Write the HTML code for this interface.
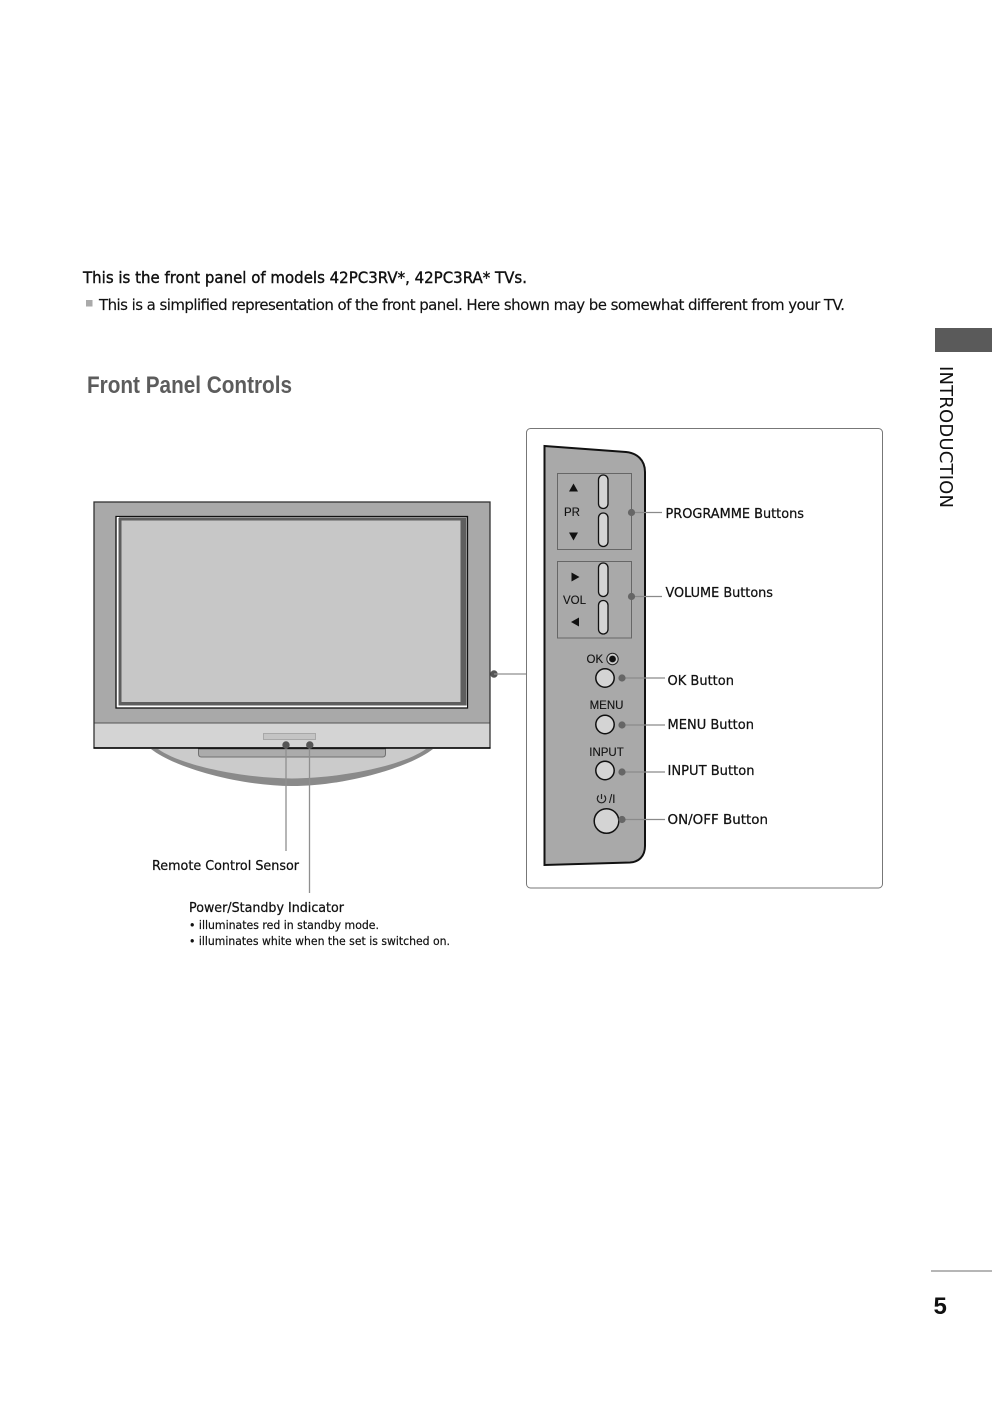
<!DOCTYPE html>
<html>
<head>
<meta charset="utf-8">
<style>
html,body{margin:0;padding:0;background:#fff;}
svg{display:block;}
text{font-family:"DejaVu Sans","Liberation Sans",sans-serif;fill:#111;}
.a{font-family:"Liberation Sans",sans-serif;font-size:11.5px;fill:#111;stroke:#111;stroke-width:.12px;}
.l{font-size:13.5px;stroke:#111;stroke-width:.25px;}
.s{font-size:11.5px;stroke:#111;stroke-width:.2px;}
</style>
</head>
<body>
<svg width="992" height="1404" viewBox="0 0 992 1404" xmlns="http://www.w3.org/2000/svg">
<rect width="992" height="1404" fill="#fff"/>

<text x="83" y="283" font-size="16" stroke="#111" stroke-width=".4" textLength="444" lengthAdjust="spacingAndGlyphs">This is the front panel of models 42PC3RV*, 42PC3RA* TVs.</text>
<rect x="86" y="300" width="6.500" height="6.500" fill="#aaa"/>
<text x="99" y="310" font-size="15" stroke="#111" stroke-width=".15" textLength="746" lengthAdjust="spacing">This is a simplified representation of the front panel. Here shown may be somewhat different from your TV.</text>
<text x="87" y="393" style="font-family:'Liberation Sans',sans-serif;fill:#5c5c5c" font-size="24" font-weight="bold" textLength="205" lengthAdjust="spacingAndGlyphs">Front Panel Controls</text>

<rect x="935" y="328" width="57" height="24" fill="#5a5a5a"/>
<text transform="translate(940,366) rotate(90)" font-size="18" textLength="142" lengthAdjust="spacing">INTRODUCTION</text>

<line x1="931" y1="1271" x2="992" y2="1271" stroke="#8a8a8a" stroke-width="1.200"/>
<text x="933.500" y="1314" style="font-family:'Liberation Sans',sans-serif" font-size="24" font-weight="bold">5</text>

<!-- stand -->
<path d="M151 749 C175 768 240 786 292 786 C344 786 409 768 433 749 Z" fill="#8a8a8a"/>
<path d="M158 749 C180 765 240 778 292 778.500 C344 778 404 765 426 749 Z" fill="#cbcbcb"/>
<path d="M198.500 749 V754 Q198.500 757 201.500 757 H382.500 Q385.500 757 385.500 754 V749 Z" fill="#ababab" stroke="#707070" stroke-width="1"/>

<!-- tv -->
<rect x="94" y="502" width="396" height="246" fill="#a9a9a9"/>
<rect x="94.500" y="723" width="395" height="25" fill="#d4d4d4"/>
<line x1="94" y1="723" x2="490" y2="723" stroke="#555" stroke-width="1"/>
<rect x="94" y="502" width="396" height="246" fill="none" stroke="#333" stroke-width="1.300"/>
<line x1="93.500" y1="748" x2="490.500" y2="748" stroke="#000" stroke-width="1.500"/>
<rect x="116" y="516.500" width="351.500" height="191.500" fill="#a9a9a9" stroke="#111" stroke-width="1.300"/>
<path d="M116.800 517 H119 V705.500 H467 V707.300 H116.800 Z" fill="#fff"/>
<rect x="118.500" y="518" width="347.500" height="187.500" fill="#5e5e5e"/>
<rect x="121.500" y="520.500" width="339" height="181.500" fill="#c7c7c7"/>
<rect x="263.500" y="733.500" width="52" height="6" fill="#c4c4c4" stroke="#a8a8a8" stroke-width="1"/>

<line x1="286" y1="745" x2="286" y2="851" stroke="#8f8f8f" stroke-width="1.300"/>
<line x1="309.500" y1="745" x2="309.500" y2="893" stroke="#8f8f8f" stroke-width="1.300"/>
<circle cx="286" cy="745" r="3.700" fill="#555"/>
<circle cx="309.800" cy="745" r="3.700" fill="#555"/>

<circle cx="494" cy="674" r="3.700" fill="#555"/>
<line x1="494" y1="674" x2="526" y2="674" stroke="#8f8f8f" stroke-width="1.300"/>

<text class="l" x="152" y="870" textLength="147" lengthAdjust="spacingAndGlyphs">Remote Control Sensor</text>
<text class="l" x="189" y="912" textLength="155" lengthAdjust="spacingAndGlyphs">Power/Standby Indicator</text>
<text class="s" x="189" y="929" textLength="190" lengthAdjust="spacingAndGlyphs">• illuminates red in standby mode.</text>
<text class="s" x="189" y="945" textLength="261" lengthAdjust="spacingAndGlyphs">• illuminates white when the set is switched on.</text>

<!-- detail box -->
<rect x="526.500" y="428.500" width="356" height="459.500" rx="4" fill="#fff" stroke="#777" stroke-width="1"/>
<path d="M544.500 446 L626 452 C637 453 645 460 645 472 V846 C645 856 639 862 630 862.500 L544.500 865 Z" fill="#a9a9a9" stroke="#111" stroke-width="2"/>

<rect x="557.500" y="473.500" width="74" height="76" fill="none" stroke="#666" stroke-width="1"/>
<rect x="557.500" y="561.500" width="74" height="76.500" fill="none" stroke="#666" stroke-width="1"/>
<g fill="#d4d4d4" stroke="#111" stroke-width="1.300">
<rect x="598.500" y="475" width="9.500" height="33.500" rx="4.700"/>
<rect x="598.500" y="513" width="9.500" height="33.500" rx="4.700"/>
<rect x="598.500" y="563" width="9.500" height="33.500" rx="4.700"/>
<rect x="598.500" y="600.500" width="9.500" height="33.500" rx="4.700"/>
</g>
<g fill="#111">
<path d="M573.500 483.500 L578 491.500 H569 Z"/>
<path d="M573.500 540.500 L578 532.500 H569 Z"/>
<path d="M579.500 577 L571.500 572.500 V581.500 Z"/>
<path d="M571 622 L579 617.500 V626.500 Z"/>
</g>
<text class="a" x="564" y="516">PR</text>
<text class="a" x="563" y="604">VOL</text>
<text class="a" x="586.500" y="663">OK</text>
<circle cx="612.500" cy="659" r="5.700" fill="#ccc" stroke="#222" stroke-width="1"/>
<circle cx="612.500" cy="659" r="3.400" fill="#111"/>
<text class="a" x="606.500" y="709" text-anchor="middle">MENU</text>
<text class="a" x="606.500" y="756" text-anchor="middle">INPUT</text>
<path d="M598.700 795.500 A4.200 4.200 0 1 0 604.300 795.500" fill="none" stroke="#222" stroke-width="1.200"/>
<line x1="601.500" y1="794" x2="601.500" y2="799" stroke="#222" stroke-width="1.200"/>
<text class="a" x="609" y="803">/I</text>

<g fill="#d4d4d4" stroke="#111" stroke-width="1.500">
<circle cx="605" cy="678" r="9.200"/>
<circle cx="605" cy="724.500" r="9.200"/>
<circle cx="605" cy="770.500" r="9.200"/>
<circle cx="606.500" cy="821" r="12.300"/>
</g>

<g stroke="#8a8a8a" stroke-width="1.200">
<line x1="632" y1="512.500" x2="662" y2="512.500"/>
<line x1="632" y1="596.500" x2="662" y2="596.500"/>
<line x1="622" y1="678" x2="665" y2="678"/>
<line x1="622" y1="725" x2="665" y2="725"/>
<line x1="622" y1="772" x2="665" y2="772"/>
<line x1="622" y1="819.500" x2="665" y2="819.500"/>
</g>
<g fill="#666">
<circle cx="631.500" cy="512.500" r="3.600"/>
<circle cx="631.500" cy="596.500" r="3.600"/>
<circle cx="622" cy="678" r="3.600"/>
<circle cx="622" cy="725" r="3.600"/>
<circle cx="622" cy="772" r="3.600"/>
<circle cx="622" cy="819.500" r="3.600"/>
</g>

<text class="l" x="665.500" y="518" textLength="138.500" lengthAdjust="spacingAndGlyphs">PROGRAMME Buttons</text>
<text class="l" x="665.500" y="597" textLength="107.500" lengthAdjust="spacingAndGlyphs">VOLUME Buttons</text>
<text class="l" x="667.500" y="685" textLength="66.500" lengthAdjust="spacingAndGlyphs">OK Button</text>
<text class="l" x="667.500" y="729" textLength="86.500" lengthAdjust="spacingAndGlyphs">MENU Button</text>
<text class="l" x="667.500" y="775" textLength="87" lengthAdjust="spacingAndGlyphs">INPUT Button</text>
<text class="l" x="667.500" y="824" textLength="100.500" lengthAdjust="spacingAndGlyphs">ON/OFF Button</text>
</svg>
</body>
</html>
